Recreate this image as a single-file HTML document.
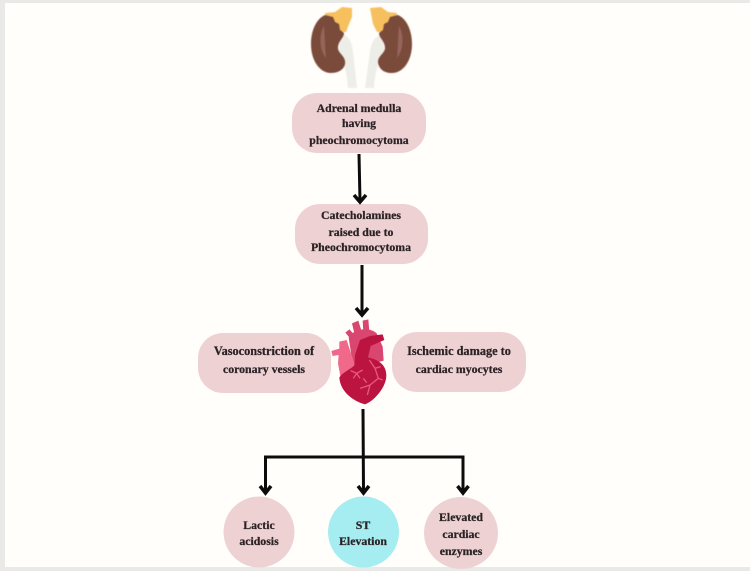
<!DOCTYPE html>
<html>
<head>
<meta charset="utf-8">
<style>
html,body{margin:0;padding:0;background:#e9e9e7;}
svg{display:block;position:absolute;left:0;top:0;}
text{font-family:"Liberation Serif",serif;font-weight:bold;font-size:11.8px;fill:#2b2226;stroke:#2b2226;stroke-width:.25px;text-anchor:middle;}
.art{filter:blur(.5px);}
</style>
</head>
<body>
<svg width="750" height="571" viewBox="0 0 750 571" xmlns="http://www.w3.org/2000/svg">
<rect width="750" height="571" fill="#e9e9e7"/>
<rect x="5" y="3" width="745" height="564" fill="#fffefa"/>

<!-- Kidneys -->
<g class="art">
<path d="M341 33 C349 36 352 42 353 52 L357 88 L348 88 C347 72 344 62 338 54 Z" fill="#eeeee8"/>
<path d="M382 34 C374 37 371 43 370 52 L365 88 L374 88 C375 72 378 62 385 54 Z" fill="#eeeee8"/>
<path d="M325 13 L335 12 L342 7 L352 8 L352 17 L349 24 L346 32 L340 32 L328 24 Z" fill="#f6c05f"/>
<path d="M370 8 L381 7 L388 12 L397 13 L395 24 L384 32 L377 32 L373 24 Z" fill="#f6c05f"/>
<path d="M325 15 C316 19 311 31 311 44 C311 61 320 73 331 73 C341 73 346 67 345 61 C344 55 338 53 338 48 C338 41 344 38 344 33 L340 30 L339 24 L335 22 L333 17 Z" fill="#7a4a3a"/>
<path d="M398 15 C407 19 412 31 412 44 C412 61 403 73 392 73 C382 73 378 67 378 61 C379 55 385 53 385 48 C385 41 379 38 379 33 L383 30 L384 24 L388 22 L390 17 Z" fill="#7a4a3a"/>
<path d="M324 26 C319 34 319 50 326 58 C325 46 325 36 324 26 Z" fill="#96645a"/>
<path d="M399 26 C404 34 404 50 397 58 C398 46 398 36 399 26 Z" fill="#96645a"/>
</g>

<!-- Boxes -->
<g fill="#eed2d3">
<rect x="292" y="93" width="134" height="60" rx="25"/>
<rect x="295" y="204" width="133" height="60" rx="25"/>
<rect x="198" y="333" width="133" height="60" rx="25"/>
<rect x="392" y="332" width="134" height="60" rx="25"/>
<circle cx="259" cy="532" r="35.5"/>
<ellipse cx="461" cy="533" rx="37" ry="36"/>
</g>
<circle cx="363.500" cy="532" r="35.5" fill="#a5edf0"/>

<!-- Labels -->
<text x="359" y="112">Adrenal medulla</text>
<text x="359" y="127">having</text>
<text x="359" y="144">pheochromocytoma</text>
<text x="361" y="219">Catecholamines</text>
<text x="361" y="236">raised due to</text>
<text x="361" y="251">Pheochromocytoma</text>
<text x="264" y="355" style="font-size:12.3px">Vasoconstriction of</text>
<text x="264" y="373">coronary vessels</text>
<text x="459" y="355" style="font-size:12.3px">Ischemic damage to</text>
<text x="459" y="373">cardiac myocytes</text>
<text x="259" y="529">Lactic</text>
<text x="259" y="545">acidosis</text>
<text x="363" y="529">ST</text>
<text x="363" y="545">Elevation</text>
<text x="461" y="521">Elevated</text>
<text x="461" y="538">cardiac</text>
<text x="461" y="555">enzymes</text>

<!-- Connectors -->
<g fill="none" stroke="#0c0c0c" stroke-width="3">
<path d="M359 154 L360 201"/>
<path d="M354 195 L360 202 L366 195" stroke-width="3.500"/>
<path d="M362 265 L362 314"/>
<path d="M356 308 L362 315 L368 308" stroke-width="3.500"/>
<path d="M363 409 L363.500 492"/>
<path d="M358 486 L363.500 493 L369 486" stroke-width="3.500"/>
<path d="M265.500 493 L265.500 457 L463 457 L463 493"/>
<path d="M260 486 L265.500 493 L271 486" stroke-width="3.500"/>
<path d="M457.500 486 L463 493 L468.500 486" stroke-width="3.500"/>
</g>

<!-- Heart -->
<g class="art" transform="translate(310 300) scale(.3333)">
<path d="M126 70 L145 62 L155 95 L135 108 Z" fill="#d94670"/>
<path d="M158 62 L175 58 L178 95 L160 95 Z" fill="#d94670"/>
<path d="M106 98 L118 88 L137 108 L125 120 Z" fill="#d94670"/>
<path d="M116 112 C130 88 175 78 200 100 L218 140 L221 182 L130 205 Z" fill="#d94670"/>
<path d="M88 125 L110 120 L118 145 L135 195 L92 234 L84 190 L86 165 L68 168 L64 153 L88 146 Z" fill="#f0688a"/>
<path d="M150 120 L180 108 L218 103 L223 120 L182 138 L174 172 C200 178 228 190 229 225 C230 262 190 305 165 313 C125 302 90 272 88 232 C100 215 122 208 133 196 L135 165 Z" fill="#bc1440"/>
<g fill="none" stroke="#e8577c" stroke-width="4">
<path d="M122 212 L140 220 L158 210 M140 220 L150 235 M140 220 L130 235"/>
<path d="M178 180 L195 205 L205 235 L180 255 L150 265 M195 205 L212 200 M205 235 L218 240 M180 255 L172 285 M170 248 L160 235"/>
</g>
</g>
</svg>
</body>
</html>
